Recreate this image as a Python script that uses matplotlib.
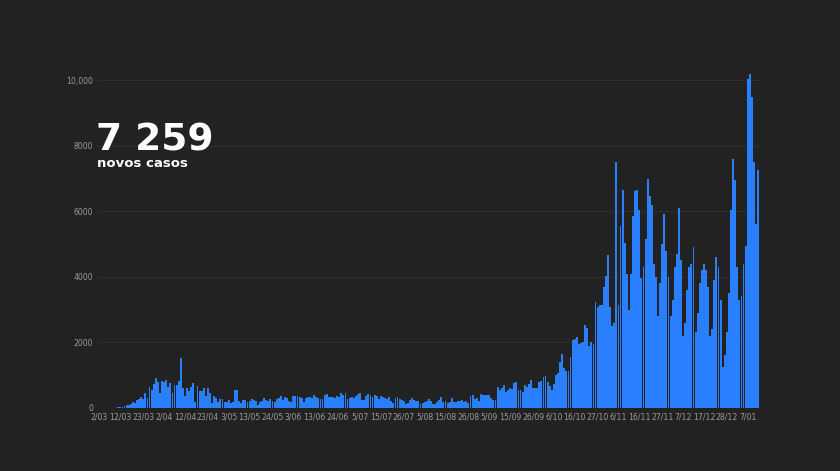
import datetime as dt
import numpy as np
import matplotlib
matplotlib.use('Agg')
import matplotlib.pyplot as plt

start = dt.date(2020, 3, 2)

# novos casos diários, 2/03/2020 .. 12/01/2021
mar = [2, 0, 2, 3, 4, 8, 9, 9, 11, 18, 19, 34, 57, 77, 86, 117, 194, 143, 235, 260,
       320, 260, 460, 302, 633, 549, 724, 902, 792, 446]
abr = [808, 783, 852, 638, 754, 452, 712, 699, 815, 1516, 598, 349, 598, 514, 643, 750,
       181, 657, 521, 516, 603, 371, 595, 444, 163, 354, 295, 183, 286, 268]
mai = [173, 186, 242, 144, 178, 533, 553, 196, 138, 226, 234, 187, 203, 264, 228, 224,
       98, 173, 219, 288, 252, 223, 271, 213, 165, 257, 304, 350, 246, 336, 297]
jun = [200, 194, 366, 377, 350, 317, 295, 192, 294, 346, 330, 294, 382, 337, 304, 260,
       264, 398, 417, 323, 329, 343, 311, 367, 342, 451, 383, 457, 266, 313]
jul = [328, 294, 374, 413, 443, 229, 232, 375, 418, 402, 346, 402, 358, 264, 374, 339,
       312, 256, 334, 222, 135, 313, 339, 256, 244, 217, 133, 140, 229, 287, 235]
ago = [217, 204, 106, 140, 166, 208, 278, 220, 120, 131, 180, 242, 325, 183, 211, 149,
       180, 290, 186, 168, 219, 211, 232, 165, 208, 163, 355, 401, 259, 316, 224]
set_ = [423, 389, 394, 404, 386, 301, 233, 246, 646, 545, 599, 687, 487, 544, 613, 582,
        770, 780, 552, 555, 475, 691, 638, 742, 849, 619, 607, 605, 786, 825]
out = [927, 963, 802, 668, 533, 740, 1011, 1053, 1394, 1646, 1226, 1118, 1114, 1538,
       2072, 2101, 2153, 1940, 1970, 2021, 2535, 2436, 1874, 2008, 1948, 3241, 3072,
       3136, 3143, 3689, 4019]
nov = [4656, 3062, 2506, 2590, 7497, 3150, 5550, 6640, 5028, 4096, 3000, 4096, 5839,
       6602, 6640, 6048, 3970, 4312, 5150, 6994, 6472, 6200, 4402, 3996, 2800, 3800,
       5000, 5900, 4800, 4000]
dez = [2800, 3300, 4300, 4700, 6087, 4500, 2200, 2600, 3600, 4300, 4400, 4900, 2300,
       2900, 3800, 4200, 4400, 4200, 3700, 2200, 2400, 3900, 4600, 4300, 3300, 1250,
       1600, 2300, 3500, 6050, 7600]
jan = [6950, 4300, 3300, 3400, 4400, 4950, 10027, 10176, 9478, 7502, 5604, 7259]

casos = mar + abr + mai + jun + jul + ago + set_ + out + nov + dez + jan

tick_labels = ['2/03', '12/03', '23/03', '2/04', '12/04', '23/04', '3/05', '13/05',
               '24/05', '3/06', '13/06', '24/06', '5/07', '15/07', '26/07', '5/08',
               '15/08', '26/08', '5/09', '15/09', '26/09', '6/10', '16/10', '27/10',
               '6/11', '16/11', '27/11', '7/12', '17/12', '28/12', '7/01']


def day_index(lbl):
    d, m = map(int, lbl.split('/'))
    y = 2021 if m == 1 else 2020
    return (dt.date(y, m, d) - start).days


bg = '#222222'
fig = plt.figure(figsize=(8.4, 4.71), dpi=100, facecolor=bg)
ax = fig.add_axes([0.116, 0.134, 0.789, 0.717], facecolor=bg)

x = np.arange(len(casos))
ax.bar(x, casos, width=0.9, color='#2a7fff', edgecolor='none', zorder=2)

ax.set_xlim(-1, len(casos))
ax.set_ylim(0, 10300)
ax.set_yticks([0, 2000, 4000, 6000, 8000, 10000])
ax.set_yticklabels(['0', '2000', '4000', '6000', '8000', '10,000'])
ax.set_xticks([day_index(l) for l in tick_labels])
ax.set_xticklabels(tick_labels)
ax.tick_params(axis='both', length=0, colors='#9a9a9a', labelsize=5.6, pad=3)
ax.grid(axis='y', color='#2e2e2e', linewidth=0.8, zorder=0)
for s in ax.spines.values():
    s.set_visible(False)

fig.text(0.114, 0.68, '7 259', color='white', fontsize=27, fontweight='bold',
         family='DejaVu Sans')
fig.text(0.116, 0.645, 'novos casos', color='white', fontsize=9.5, fontweight='bold',
         family='DejaVu Sans')

fig.savefig('out.png', dpi=100, facecolor=bg)
